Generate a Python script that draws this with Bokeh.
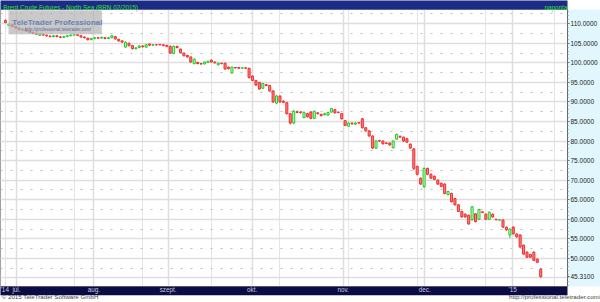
from bokeh.plotting import figure
from bokeh.models import (ColumnDataSource, SingleIntervalTicker, FixedTicker,
                          PrintfTickFormatter, LinearAxis, Range1d, Grid, Label,
                          BoxAnnotation)
from bokeh.embed import file_html
from bokeh.resources import INLINE

# ---------------- data ----------------
opens = [110.8,109.5,109.7,109.2,108.9,108.3,108.5,108.0,107.8,107.5,
         107.0,107.3,107.1,106.8,106.7,106.9,106.6,106.5,106.7,106.9,
         107.1,107.2,106.9,106.6,106.3,105.9,106.2,106.4,106.3,106.4,
         106.2,106.4,106.7,106.0,105.6,104.0,105.0,104.4,103.6,103.9,
         104.3,104.0,104.8,104.5,104.6,104.7,104.6,104.4,104.2,102.4,
         104.2,103.5,102.5,101.9,101.5,99.8,100.1,99.8,99.7,100.1,
         100.7,100.2,99.5,99.9,99.9,98.9,97.4,98.8,98.8,98.6,
         98.7,98.6,96.6,95.5,95.0,93.5,94.4,94.2,92.8,89.7,
         91.5,90.2,89.8,87.0,84.6,87.5,87.4,86.0,87.0,87.4,
         85.8,87.2,86.8,86.7,86.6,87.4,88.0,87.4,87.0,85.2,
         83.8,84.6,84.3,84.7,85.7,83.4,82.6,81.3,78.2,80.1,
         80.0,79.5,79.5,78.3,80.5,81.2,81.0,80.6,79.2,78.0,
         73.5,70.5,68.4,73.0,71.5,71.0,70.0,69.2,69.0,66.3,
         66.6,65.3,63.7,62.0,61.3,61.0,59.9,61.4,60.0,61.9,
         61.3,60.0,61.3,60.0,59.8,59.8,58.0,56.0,58.0,56.2,
         56.0,53.4,51.6,51.0,51.6,49.8,47.2]
highs = [111.1,110.0,109.8,109.4,109.0,108.8,108.6,108.2,107.9,107.7,
         107.6,107.5,107.2,107.0,107.1,107.0,106.8,106.9,107.1,107.3,
         107.4,107.3,107.0,106.7,106.4,106.4,106.6,106.5,106.7,106.5,
         106.6,107.1,106.8,106.1,105.7,105.5,105.1,104.5,104.0,104.5,
         104.4,104.8,104.9,104.8,104.8,104.8,104.7,104.6,104.4,104.4,
         104.3,103.6,102.6,102.0,101.6,101.1,100.2,99.9,100.3,100.5,
         100.8,100.3,100.0,100.0,100.0,99.0,99.0,98.9,98.9,98.9,
         98.8,98.7,96.8,95.6,95.1,94.9,94.6,94.3,93.0,91.8,
         91.7,90.4,90.0,87.2,88.0,87.8,87.6,87.6,87.2,87.6,
         87.8,87.4,87.0,87.2,87.5,88.5,88.2,87.5,87.1,85.3,
         84.8,84.7,84.8,84.8,85.9,83.5,82.7,81.4,80.2,80.3,
         80.1,79.7,79.6,80.2,81.9,81.4,81.1,80.8,79.4,78.2,
         73.7,70.7,73.2,73.2,71.7,71.2,70.2,69.4,69.2,67.3,
         66.8,65.5,63.9,62.2,61.5,61.2,63.4,61.6,62.7,62.0,
         61.5,62.0,61.5,60.1,60.0,60.0,58.1,57.6,58.2,56.4,
         56.1,53.5,51.8,51.1,51.8,50.0,47.5]
lows = [110.1,109.3,109.1,108.7,108.3,108.2,107.9,107.6,107.3,107.1,
        106.9,106.9,106.7,106.5,106.5,106.5,106.3,106.4,106.6,106.8,
        106.9,106.8,106.4,106.2,105.7,105.8,106.0,106.1,106.2,106.0,
        106.1,106.3,105.9,105.4,105.1,103.8,104.2,103.4,103.4,103.7,
        103.9,103.9,104.3,104.4,104.4,104.4,104.2,104.0,102.3,102.2,
        103.7,102.4,101.6,101.3,100.0,99.6,99.6,99.5,99.6,100.0,
        100.1,99.8,99.3,99.6,98.3,98.3,97.2,98.5,98.5,98.5,
        98.4,96.0,95.3,94.1,93.1,93.3,94.0,92.6,89.7,89.4,
        89.8,89.7,86.8,84.2,84.3,87.1,87.0,85.8,86.0,85.6,
        85.6,86.8,86.3,86.6,86.5,87.3,87.0,87.1,85.5,83.8,
        83.6,84.2,84.2,84.4,83.2,82.4,81.1,78.0,78.0,79.8,
        79.1,79.2,78.8,78.1,80.3,80.8,79.8,79.5,78.0,72.6,
        71.2,68.8,68.0,71.3,70.3,70.0,68.8,68.2,66.4,66.1,
        64.3,63.5,61.8,60.4,60.4,58.6,59.6,59.2,59.8,61.6,
        59.8,59.8,60.4,59.7,59.6,57.8,57.1,55.2,56.1,55.3,
        52.7,50.9,50.1,50.1,49.3,48.8,45.1]
closes = [110.3,109.9,109.3,108.9,108.5,108.6,108.1,107.8,107.5,107.3,
          107.4,107.1,106.9,106.7,106.9,106.7,106.5,106.7,106.9,107.1,
          107.2,107.0,106.6,106.4,105.9,106.2,106.4,106.3,106.5,106.2,
          106.4,106.9,106.1,105.6,105.3,105.2,104.4,103.6,103.8,104.3,
          104.1,104.6,104.5,104.6,104.6,104.6,104.4,104.2,102.5,104.2,
          103.9,102.6,101.8,101.5,100.2,100.9,99.8,99.7,100.2,100.4,
          100.2,100.0,99.9,99.8,98.4,98.5,98.9,98.7,98.6,98.7,
          98.6,96.2,95.5,94.3,93.3,94.7,94.2,92.8,90.0,91.5,
          90.0,89.9,87.0,84.6,87.6,87.3,87.3,87.3,86.2,85.8,
          87.6,87.0,86.5,87.0,87.3,88.3,87.2,87.3,85.7,84.0,
          84.6,84.4,84.6,84.6,83.4,82.6,81.3,78.2,80.0,80.0,
          79.3,79.4,79.0,80.0,81.7,81.0,80.0,79.7,78.2,73.0,
          71.5,69.0,73.0,71.5,70.5,70.2,69.0,68.4,66.6,67.1,
          64.5,63.7,62.0,60.6,60.6,58.8,63.2,59.4,62.5,61.7,
          60.0,61.8,60.6,59.9,59.9,58.0,57.3,57.5,56.3,55.5,
          52.9,51.1,50.3,50.3,49.5,49.0,45.31]

# date axis (positions are candle indices where each month starts)
month_pos = [3.2, 25.8, 47.4, 71.9, 98.4, 122.2, 147.8]
month_labels = ["júl.", "aug.", "szept.", "okt.", "nov.", "dec.", "'15"]
year_pos = -0.2
year_label = "'14"
# price axis
price_ticks = [50, 55, 60, 65, 70, 75, 80, 85, 90, 95, 100, 105, 110]
last_price = 45.31
# texts
title_text = "Brent Crude Futures - North Sea (BRN 02/2015)"
period_text = "naponta"
copyright_text = "© 2015 TeleTrader Software GmbH"
url_text = "http://professional.teletrader.com/"

FONT = "Liberation Sans"
NAVY_TOP = "#1b2b86"
NAVY_BOT = "#0c0c44"
AXIS_BG = "#e2f7fd"


def text_axis(ticks, labels, color, size, standoff, bg):
    ax = LinearAxis(ticker=FixedTicker(ticks=ticks, minor_ticks=[]),
                    major_label_overrides={t: s for t, s in zip(ticks, labels)})
    ax.axis_label = None
    ax.axis_label_standoff = 0
    ax.axis_line_color = None
    ax.major_tick_line_color = None
    ax.minor_tick_line_color = None
    ax.major_tick_in = 0
    ax.major_tick_out = 0
    ax.minor_tick_in = 0
    ax.minor_tick_out = 0
    ax.major_label_standoff = standoff
    ax.major_label_text_font = FONT
    ax.major_label_text_font_size = size
    ax.major_label_text_color = color
    ax.background_fill_color = bg
    return ax


# ---------------- candle sources ----------------
def make_src(sel):
    d = dict(x=[], h=[], l=[], top=[], bottom=[])
    for i, (o, h, l, c) in enumerate(zip(opens, highs, lows, closes)):
        if sel(o, c):
            d["x"].append(i); d["h"].append(h); d["l"].append(l)
            d["top"].append(max(o, c)); d["bottom"].append(min(o, c))
    return ColumnDataSource(d)

src_up = make_src(lambda o, c: c > o)
src_dn = make_src(lambda o, c: c <= o)

x_range = Range1d(-1.45, 163.8)

p = figure(width=600, height=302, x_range=x_range, y_range=Range1d(42.82, 113.62),
           title=None, output_backend="svg", toolbar_location=None,
           min_border_left=0, min_border_right=0, min_border_top=0, min_border_bottom=0,
           x_axis_location=None, y_axis_location=None,
           background_fill_color="white", border_fill_color="white",
           outline_line_color="#a0a0a0")

# grids
p.add_layout(Grid(dimension=1, ticker=SingleIntervalTicker(interval=5, num_minor_ticks=2),
                  grid_line_color="#dedede", grid_line_width=1.5,
                  minor_grid_line_color="#bdbdbd", minor_grid_line_dash="2 8"))
p.add_layout(Grid(dimension=0, ticker=FixedTicker(ticks=month_pos),
                  grid_line_color="#dedede", grid_line_width=1.5))

# right price axis
yt = [last_price] + price_ticks
yax = LinearAxis(ticker=FixedTicker(ticks=yt, minor_ticks=list(range(43, 115))),
                 formatter=PrintfTickFormatter(format="%.4f"))
yax.axis_label = None
yax.major_label_text_font = FONT
yax.major_label_text_font_size = "6.5px"
yax.major_label_text_color = "#1a1a1a"
yax.major_label_standoff = 1
yax.axis_line_color = "#666666"
yax.major_tick_in = 0
yax.major_tick_out = 2
yax.major_tick_line_color = "#666666"
yax.minor_tick_in = 0
yax.minor_tick_out = 1
yax.minor_tick_line_color = "#888888"
yax.background_fill_color = AXIS_BG
p.add_layout(yax, "right")

# header bar (title + period) as an axis above
p.add_layout(text_axis([19.0, 160.4], [title_text, period_text], "#2fe02f", "6.3px", -1,
                       NAVY_TOP), "above")
# date bar and footer below
p.add_layout(text_axis([year_pos] + month_pos, [year_label] + month_labels, "#c6cbe0",
                       "6.3px", -1, NAVY_BOT), "below")
p.add_layout(text_axis([13.0, 160.6], [copyright_text, url_text], "#444444", "6.2px", -3,
                       "white"), "below")

# candles
for src, fill, line in ((src_dn, "#ff7f7f", "#f03030"), (src_up, "#bfffbf", "#26c826")):
    p.segment(x0="x", y0="l", x1="x", y1="h", source=src, line_color=line, line_width=1)
    p.vbar(x="x", width=0.6, top="top", bottom="bottom", source=src,
           fill_color=fill, line_color=line, line_width=1)

# watermark logo
p.add_layout(BoxAnnotation(left=0.9, right=28.1, top=113.4, bottom=107.3,
                           fill_color="#b2b2b2", fill_alpha=0.7,
                           line_color="#e6e6e6", line_width=1))
p.add_layout(Label(x=2.0, y=110.2, text="TeleTrader Professional",
                   text_font=FONT, text_font_size="8px",
                   text_font_style="bold", text_color="#6b82b6",
                   text_baseline="alphabetic"))
p.add_layout(Label(x=5.6, y=108.5, text=url_text,
                   text_font=FONT, text_font_size="4.5px",
                   text_color="#5a6c9c", text_baseline="alphabetic"))

open("out.html", "w").write(file_html(p, INLINE))
